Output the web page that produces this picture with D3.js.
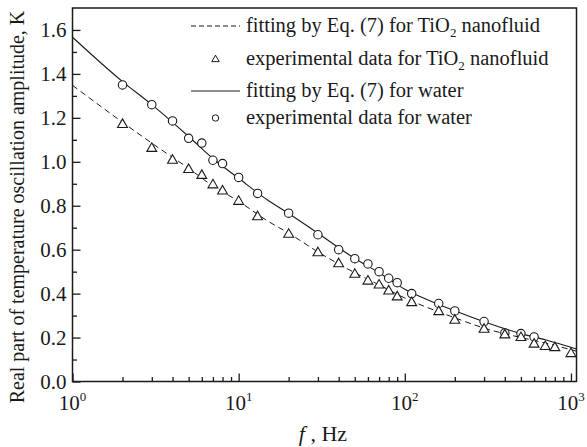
<!DOCTYPE html>
<html>
<head>
<meta charset="utf-8">
<script src="https://cdn.jsdelivr.net/npm/d3@7"></script>
<style>
  body { margin: 0; background: #fff; }
</style>
</head>
<body>
<svg id="chart" width="587" height="447"></svg>
<script>
'use strict';

/* Data */

// experimental points, f in Hz
var waterFreq = [2, 3, 4, 5, 6, 7, 8, 10, 13, 20, 30, 40, 50, 60, 70, 80, 90, 110, 160, 200, 300, 400, 500, 600];
var waterAmp  = [1.35, 1.26, 1.186, 1.107, 1.085, 1.007, 0.992, 0.929, 0.856, 0.766, 0.668, 0.60, 0.559, 0.535, 0.50, 0.47, 0.45, 0.40, 0.355, 0.321, 0.273, 0.221, 0.218, 0.203];

var tioFreq = [2, 3, 4, 5, 6, 7, 8, 10, 13, 20, 30, 40, 50, 60, 70, 80, 90, 110, 160, 200, 300, 400, 500, 600, 700, 800, 1000];
var tioAmp  = [1.173, 1.064, 1.01, 0.968, 0.941, 0.898, 0.87, 0.823, 0.753, 0.673, 0.589, 0.539, 0.491, 0.46, 0.442, 0.415, 0.388, 0.362, 0.321, 0.282, 0.241, 0.215, 0.203, 0.173, 0.162, 0.157, 0.13];

// fitted curves, Eq. (7)
var fitFreq     = [1, 2, 3, 5, 7, 10, 15, 20, 30, 50, 70, 100, 150, 200, 300, 500, 700, 1080];
var waterFitAmp = [1.567, 1.365, 1.26, 1.115, 1.015, 0.925, 0.825, 0.765, 0.675, 0.56, 0.495, 0.42, 0.36, 0.322, 0.272, 0.218, 0.19, 0.148];
var tioFitAmp   = [1.348, 1.18, 1.085, 0.97, 0.89, 0.82, 0.73, 0.675, 0.59, 0.495, 0.44, 0.38, 0.325, 0.29, 0.243, 0.2, 0.175, 0.138];

var xMajor = [1, 10, 100, 1000];
var xMajorExp = ['0', '1', '2', '3'];
var yMajor = [0, 0.2, 0.4, 0.6, 0.8, 1.0, 1.2, 1.4, 1.6];
var yMinor = [0.1, 0.3, 0.5, 0.7, 0.9, 1.1, 1.3, 1.5];

var legendLabels = [
    ['fitting by Eq. (7) for TiO', '2', ' nanofluid'],
    ['experimental data for TiO', '2', ' nanofluid'],
    ['fitting by Eq. (7) for water'],
    ['experimental data for water']
];

/* Layout */

var pLeft = 72.5, pRight = 576.5, pTop = 8, pBottom = 381.5;
var ink = '#1a1a1a';
var serif = '"Liberation Serif", "Times New Roman", Tinos, serif';

var svg = d3.select('#chart');

var x = d3.scaleLog().domain([1, 1080]).range([pLeft, pRight]);
var y = d3.scaleLinear().domain([0, 1.7]).range([pBottom, pTop]);

var xMinor = [];
[1, 10, 100].forEach(function (d) {
    for (var k = 2; k <= 9; k++) xMinor.push(d * k);
});

// x axis ticks (inside)
svg.append('g')
    .attr('transform', 'translate(0,' + pBottom + ')')
    .call(d3.axisBottom(x).tickValues(xMajor).tickSize(-8).tickSizeOuter(0).tickFormat(''))
    .call(function (g) { g.select('.domain').remove(); });
svg.append('g')
    .attr('transform', 'translate(0,' + pBottom + ')')
    .call(d3.axisBottom(x).tickValues(xMinor).tickSize(-4.5).tickSizeOuter(0).tickFormat(''))
    .call(function (g) { g.select('.domain').remove(); });

// y axis ticks (inside) + labels
var yAxis = svg.append('g')
    .attr('transform', 'translate(' + pLeft + ',0)')
    .call(d3.axisLeft(y).tickValues(yMajor).tickSize(-8).tickSizeOuter(0)
        .tickPadding(6).tickFormat(d3.format('.1f')))
    .call(function (g) { g.select('.domain').remove(); });
yAxis.attr('font-family', serif).attr('font-size', 21);
yAxis.selectAll('text').attr('fill', ink);
svg.append('g')
    .attr('transform', 'translate(' + pLeft + ',0)')
    .call(d3.axisLeft(y).tickValues(yMinor).tickSize(-4.5).tickSizeOuter(0).tickFormat(''))
    .call(function (g) { g.select('.domain').remove(); });

svg.selectAll('.tick line').attr('stroke', ink).attr('stroke-width', 1.3);

// frame
svg.append('rect')
    .attr('x', pLeft).attr('y', pTop)
    .attr('width', pRight - pLeft).attr('height', pBottom - pTop)
    .attr('fill', 'none').attr('stroke', ink).attr('stroke-width', 1.5);

// x tick labels 10^n
var xl = svg.append('g').selectAll('text')
    .data(xMajor)
    .join('text')
    .attr('x', function (d) { return x(d); })
    .attr('y', 410)
    .attr('text-anchor', 'middle')
    .attr('font-family', serif)
    .attr('font-size', 21)
    .attr('fill', ink);
xl.append('tspan').text('10');
xl.append('tspan')
    .attr('dy', -9)
    .attr('font-size', 13)
    .text(function (d, i) { return xMajorExp[i]; });

// axis titles
var xt = svg.append('text')
    .attr('x', 323).attr('y', 441)
    .attr('text-anchor', 'middle')
    .attr('font-family', serif)
    .attr('font-size', 22)
    .attr('fill', ink);
xt.append('tspan').attr('font-style', 'italic').text('f');
xt.append('tspan').text(' , Hz');

svg.append('text')
    .attr('transform', 'translate(24,207) rotate(-90)')
    .attr('text-anchor', 'middle')
    .attr('font-family', serif)
    .attr('font-size', 20)
    .attr('fill', ink)
    .text('Real part of temperature oscillation amplitude, K');

// fitted curves
var line = d3.line()
    .x(function (d) { return x(d[0]); })
    .y(function (d) { return y(d[1]); })
    .curve(d3.curveMonotoneX);

var plot = svg.append('g');

plot.append('path')
    .datum(d3.zip(fitFreq, tioFitAmp))
    .attr('d', line)
    .attr('fill', 'none')
    .attr('stroke', ink)
    .attr('stroke-width', 1)
    .attr('stroke-dasharray', '6,4');

plot.append('path')
    .datum(d3.zip(fitFreq, waterFitAmp))
    .attr('d', line)
    .attr('fill', 'none')
    .attr('stroke', ink)
    .attr('stroke-width', 1.1);

// markers
var tri = d3.symbol().type(d3.symbolTriangle).size(42);
var triSmall = d3.symbol().type(d3.symbolTriangle).size(24);

plot.append('g').selectAll('circle')
    .data(d3.zip(waterFreq, waterAmp))
    .join('circle')
    .attr('cx', function (d) { return x(d[0]); })
    .attr('cy', function (d) { return y(d[1]); })
    .attr('r', 4.2)
    .attr('fill', '#fff')
    .attr('stroke', ink)
    .attr('stroke-width', 1.1);

plot.append('g').selectAll('path')
    .data(d3.zip(tioFreq, tioAmp))
    .join('path')
    .attr('transform', function (d) { return 'translate(' + x(d[0]) + ',' + (y(d[1]) + 0.8) + ')'; })
    .attr('d', tri)
    .attr('fill', '#fff')
    .attr('stroke', ink)
    .attr('stroke-width', 1.1);

// legend
var legRows = [26, 59, 91, 118];
var lx0 = 191, lx1 = 240, ltx = 246;

var leg = svg.append('g');
leg.append('line')
    .attr('x1', lx0).attr('x2', lx1).attr('y1', legRows[0]).attr('y2', legRows[0])
    .attr('stroke', ink).attr('stroke-dasharray', '5,3');
leg.append('path')
    .attr('transform', 'translate(' + (lx0 + lx1) / 2 + ',' + (legRows[1] + 0.5) + ')')
    .attr('d', triSmall)
    .attr('fill', '#fff').attr('stroke', ink);
leg.append('line')
    .attr('x1', lx0).attr('x2', lx1).attr('y1', legRows[2]).attr('y2', legRows[2])
    .attr('stroke', ink);
leg.append('circle')
    .attr('cx', (lx0 + lx1) / 2).attr('cy', legRows[3]).attr('r', 3.2)
    .attr('fill', '#fff').attr('stroke', ink);

legendLabels.forEach(function (parts, i) {
    var t = leg.append('text')
        .attr('x', ltx).attr('y', legRows[i] + 6)
        .attr('font-family', serif)
        .attr('font-size', 20.5)
        .attr('fill', ink);
    t.append('tspan').text(parts[0]);
    if (parts.length > 1) {
        t.append('tspan').attr('dy', 5).attr('font-size', 13).text(parts[1]);
        t.append('tspan').attr('dy', -5).text(parts[2]);
    }
});
</script>
</body>
</html>
